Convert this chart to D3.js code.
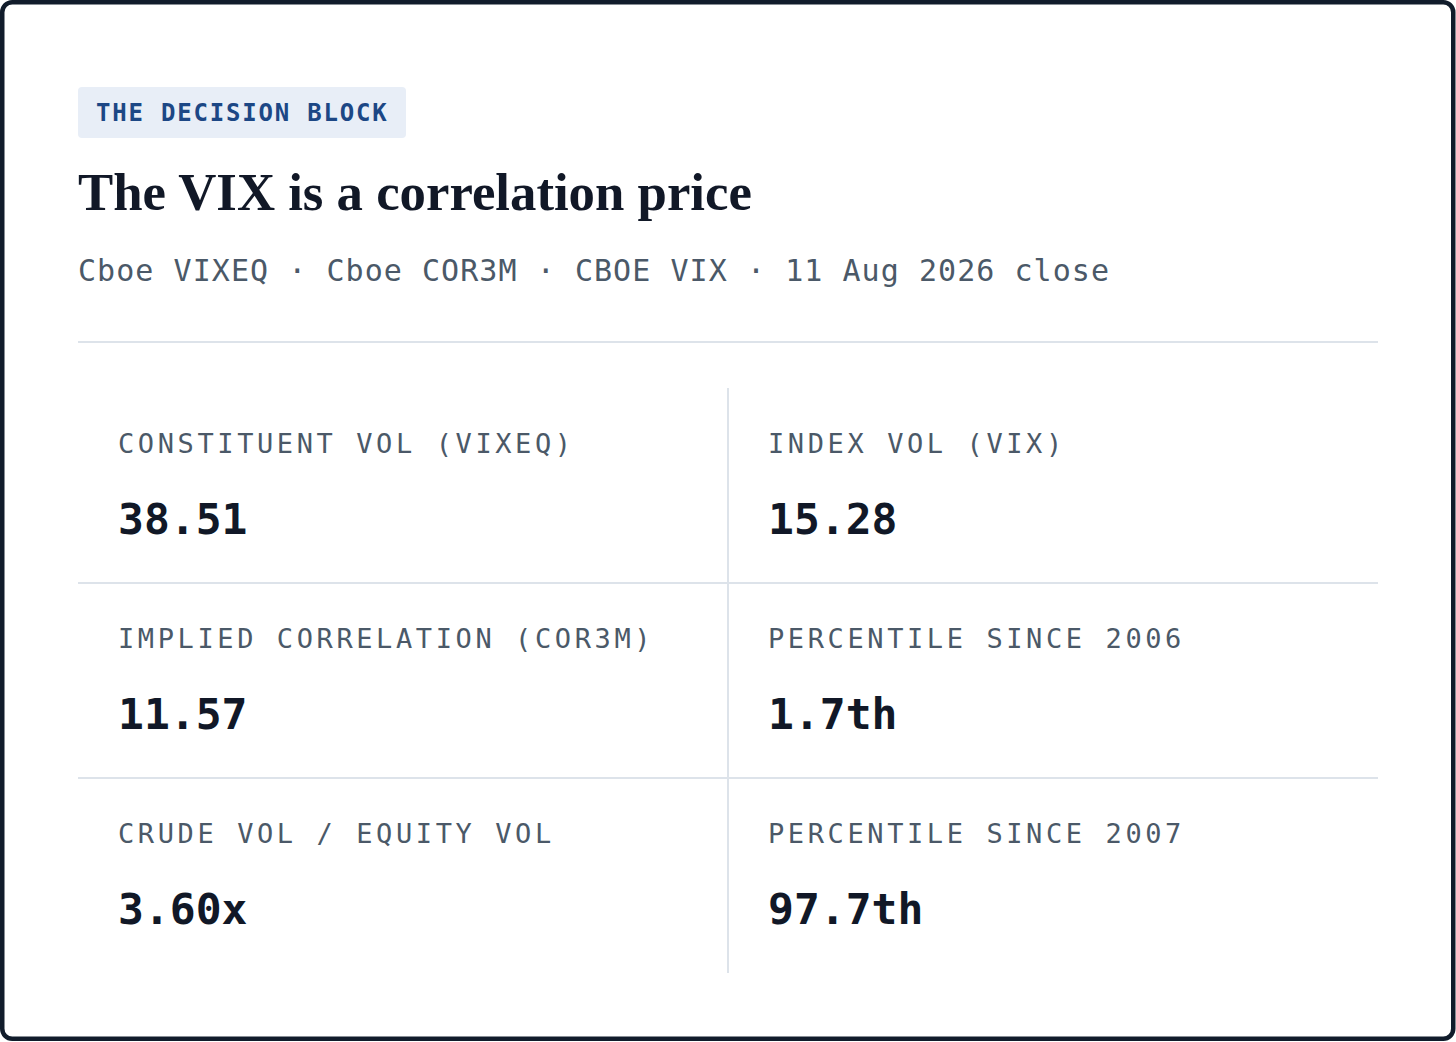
<!DOCTYPE html>
<html>
<head>
<meta charset="utf-8">
<script src="https://d3js.org/d3.v7.min.js"></script>
<style>
    html, body { margin: 0; padding: 0; background: #ffffff; }
    svg { display: block; }
</style>
</head>
<body>
<svg id="card" width="1456" height="1042"></svg>
<script>
    // Card content
    var tagText = "THE DECISION BLOCK";
    var titleText = "The VIX is a correlation price";
    var sources = ["Cboe VIXEQ", "Cboe COR3M", "CBOE VIX", "11 Aug 2026 close"];

    // Stat grid, read row by row (left, right)
    var statLabels = [
        "CONSTITUENT VOL (VIXEQ)", "INDEX VOL (VIX)",
        "IMPLIED CORRELATION (COR3M)", "PERCENTILE SINCE 2006",
        "CRUDE VOL / EQUITY VOL", "PERCENTILE SINCE 2007"
    ];
    var statValues = ["38.51", "15.28", "11.57", "1.7th", "3.60x", "97.7th"];

    var W = 1456, H = 1042;
    var mono = "'DejaVu Sans Mono', 'Liberation Mono', monospace";
    var serif = "'Liberation Serif', 'DejaVu Serif', serif";
    var ink = "#111827", slate = "#4b5968", rule = "#dde3ea";

    var svg = d3.select("#card");

    // outer card frame
    svg.append("rect")
        .attr("x", 2.25).attr("y", 2.25)
        .attr("width", W - 5).attr("height", H - 5.5)
        .attr("rx", 10)
        .attr("fill", "#ffffff")
        .attr("stroke", "#111c2b")
        .attr("stroke-width", 4.5);

    var left = 78, right = 1378;

    // tag pill
    svg.append("rect")
        .attr("x", left).attr("y", 87)
        .attr("width", 328).attr("height", 51)
        .attr("rx", 4)
        .attr("fill", "#e8eef7");
    svg.append("text")
        .attr("x", 96).attr("y", 121)
        .attr("font-family", mono)
        .attr("font-weight", "bold")
        .attr("font-size", 24)
        .attr("letter-spacing", 1.8)
        .attr("fill", "#1c4785")
        .text(tagText);

    // title
    var title = svg.append("text")
        .attr("x", left).attr("y", 210)
        .attr("font-family", serif)
        .attr("font-weight", "bold")
        .attr("font-size", 52)
        .attr("fill", ink)
        .text(titleText);
    // fit the title to the width seen in the reference
    var tw = title.node().getComputedTextLength();
    title.attr("font-size", 52 * 674 / tw);

    // subtitle
    svg.append("text")
        .attr("x", left).attr("y", 281)
        .attr("font-family", mono)
        .attr("font-size", 30)
        .attr("letter-spacing", 1.05)
        .attr("fill", slate)
        .text(sources.join(" \u00b7 "));

    // rule under the header
    svg.append("line")
        .attr("x1", left).attr("x2", right)
        .attr("y1", 342).attr("y2", 342)
        .attr("stroke", rule).attr("stroke-width", 2);

    // grid scales
    var nRows = statValues.length / 2;
    var xCol = d3.scaleBand().domain([0, 1]).range([left, right]);
    var yRow = d3.scaleBand().domain(d3.range(nRows)).range([388, 973]);

    var cells = statValues.map(function (v, i) {
        return { label: statLabels[i], value: v, col: i % 2, row: Math.floor(i / 2) };
    });

    // horizontal separators between rows
    svg.selectAll(".hsep")
        .data(d3.range(1, nRows))
        .enter()
        .append("line")
        .attr("class", "hsep")
        .attr("x1", left).attr("x2", right)
        .attr("y1", function (r) { return yRow(r); })
        .attr("y2", function (r) { return yRow(r); })
        .attr("stroke", rule).attr("stroke-width", 2);

    // vertical separator
    svg.append("line")
        .attr("x1", xCol(1)).attr("x2", xCol(1))
        .attr("y1", yRow(0)).attr("y2", yRow(nRows - 1) + yRow.bandwidth())
        .attr("stroke", rule).attr("stroke-width", 2);

    var g = svg.selectAll(".cell")
        .data(cells)
        .enter()
        .append("g")
        .attr("class", "cell")
        .attr("transform", function (d) {
            return "translate(" + (xCol(d.col) + 40) + "," + yRow(d.row) + ")";
        });

    g.append("text")
        .attr("y", 65)
        .attr("font-family", mono)
        .attr("font-size", 27)
        .attr("letter-spacing", 3.6)
        .attr("fill", slate)
        .text(function (d) { return d.label; });

    g.append("text")
        .attr("y", 146)
        .attr("font-family", mono)
        .attr("font-weight", "bold")
        .attr("font-size", 43)
        .attr("fill", ink)
        .text(function (d) { return d.value; });
</script>
</body>
</html>
